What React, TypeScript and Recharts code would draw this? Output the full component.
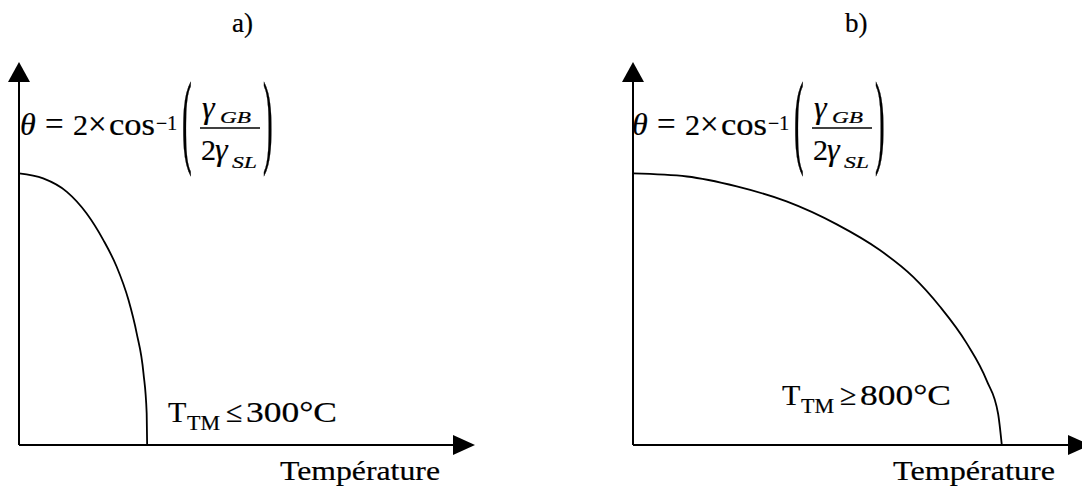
import React from "react";
import {
  LineChart,
  Line,
  XAxis,
  YAxis,
  ReferenceLine,
  ReferenceDot,
  Customized,
} from "recharts";

// Panel a) — T_TM <= 300°C (arbitrary units, 0..100 on each axis)
const tempA = [0, 5.3, 10.5, 14.8, 18.5, 21.4, 24.0, 25.8, 27.3, 28.0, 28.1];
const thetaA = [70.9, 69.6, 66.1, 60.5, 53.5, 46.6, 37.9, 29.2, 18.7, 8.3, 0];

// Panel b) — T_TM >= 800°C
const tempB = [0, 11.8, 22.7, 33.6, 44.6, 54.0, 61.3, 67.2, 73.0, 77.4, 79.9, 80.7];
const thetaB = [70.9, 70.1, 67.5, 63.6, 57.6, 50.9, 43.9, 36.1, 26.6, 16.8, 8.1, 0];

const panelTitles = ["a)", "b)"];
const conditionValues = ["300°C", "800°C"];
const conditionSigns = ["≤", "≥"];
const xAxisLabel = "Température";

const dataA = tempA.map((t, i) => ({ t, theta: thetaA[i] }));
const dataB = tempB.map((t, i) => ({ t, theta: thetaB[i] }));

const FONT = "'Liberation Serif', 'Times New Roman', serif";
const SW = 0.2;

const ArrowUp = (p: any) => (
  <polygon
    points={`${p.cx},${p.cy} ${p.cx - 11},${p.cy + 20} ${p.cx + 11},${p.cy + 20}`}
    fill="#000"
  />
);
const ArrowRight = (p: any) => (
  <polygon
    points={`${p.cx},${p.cy} ${p.cx - 22},${p.cy - 10} ${p.cx - 22},${p.cy + 10}`}
    fill="#000"
  />
);

const Equation = ({ dx }: { dx: number }) => (
  <g fontFamily={FONT} fill="#000" stroke="#000" strokeWidth={SW}>
    <text x={dx + 20} y={135} fontSize={32} fontStyle="italic">θ</text>
    <text x={dx + 45} y={135} fontSize={33}>=</text>
    <text x={dx + 73} y={135} fontSize={30}>2</text>
    <text x={dx + 88} y={135} fontSize={33}>×</text>
    <text x={dx + 109} y={135} fontSize={31} textLength={46} lengthAdjust="spacingAndGlyphs">cos</text>
    <text x={dx + 156} y={130} fontSize={20} textLength={21} lengthAdjust="spacingAndGlyphs">−1</text>
    <text transform={`translate(${dx + 182},154) scale(1,3.6)`} fontSize={29} strokeWidth={0.2}>(</text>
    <line x1={dx + 200} x2={dx + 260} y1={128} y2={128} stroke="#000" strokeWidth={1.6} />
    <text x={dx + 202} y={118} fontSize={32} fontStyle="italic">γ</text>
    <text x={dx + 220} y={123} fontSize={17} fontStyle="italic" textLength={31} lengthAdjust="spacingAndGlyphs">GB</text>
    <text x={dx + 201} y={160} fontSize={30}>2</text>
    <text x={dx + 215} y={160} fontSize={32} fontStyle="italic">γ</text>
    <text x={dx + 232} y={168} fontSize={17} fontStyle="italic" textLength={25} lengthAdjust="spacingAndGlyphs">SL</text>
    <text transform={`translate(${dx + 263},154) scale(1,3.6)`} fontSize={29} strokeWidth={0.2}>)</text>
  </g>
);

const Condition = ({ x, y, sign, value }: { x: number; y: number; sign: string; value: string }) => (
  <g fontFamily={FONT} fill="#000" stroke="#000" strokeWidth={SW}>
    <text x={x} y={y} fontSize={30}>T</text>
    <text x={x + 19} y={y + 8} fontSize={22} textLength={33} lengthAdjust="spacingAndGlyphs">TM</text>
    <text x={x + 58} y={y} fontSize={30}>{sign}</text>
    <text x={x + 78} y={y} fontSize={29} textLength={91} lengthAdjust="spacingAndGlyphs">{value}</text>
  </g>
);

const AxisTitle = ({ x, len, label }: { x: number; len: number; label: string }) => (
  <text
    x={x}
    y={480}
    fontFamily={FONT}
    fontSize={27}
    fill="#000"
    stroke="#000"
    strokeWidth={SW}
    textLength={len}
    lengthAdjust="spacingAndGlyphs"
  >
    {label}
  </text>
);

const Title = ({ x, label }: { x: number; label: string }) => (
  <text x={x} y={32} fontFamily={FONT} fontSize={27} fill="#000" stroke="#000" strokeWidth={SW}>
    {label}
  </text>
);

const AnnotA = () => (
  <g>
    <Title x={232} label={panelTitles[0]} />
    <Equation dx={0} />
    <Condition x={168} y={422} sign={conditionSigns[0]} value={conditionValues[0]} />
    <AxisTitle x={280} len={160} label={xAxisLabel} />
  </g>
);

const B_LEFT = 560;

const AnnotB = () => (
  <g>
    <Title x={845 - B_LEFT} label={panelTitles[1]} />
    <Equation dx={612 - B_LEFT} />
    <Condition x={782 - B_LEFT} y={405} sign={conditionSigns[1]} value={conditionValues[1]} />
    <AxisTitle x={893 - B_LEFT} len={162} label={xAxisLabel} />
  </g>
);

const Panel = ({
  data,
  left,
  width,
  margin,
  annot,
}: {
  data: any[];
  left: number;
  width: number;
  margin: any;
  annot: React.ReactElement;
}) => (
  <div style={{ position: "absolute", left, top: 0 }}>
    <LineChart width={width} height={491} data={data} margin={margin}>
      <XAxis type="number" dataKey="t" domain={[0, 100]} hide />
      <YAxis type="number" domain={[0, 100]} hide />
      <ReferenceLine
        segment={[{ x: 0, y: 0 }, { x: 0, y: 96 }]}
        stroke="#000"
        strokeWidth={2}
        ifOverflow="visible"
      />
      <ReferenceLine
        segment={[{ x: 0, y: 0 }, { x: 97, y: 0 }]}
        stroke="#000"
        strokeWidth={2}
        ifOverflow="visible"
      />
      <ReferenceDot x={0} y={100} shape={ArrowUp} ifOverflow="visible" />
      <ReferenceDot x={100} y={0} shape={ArrowRight} ifOverflow="visible" />
      <Line
        type="monotone"
        dataKey="theta"
        stroke="#000"
        strokeWidth={1.8}
        dot={false}
        activeDot={false}
        isAnimationActive={false}
      />
      <Customized component={annot} />
    </LineChart>
  </div>
);

export default function App() {
  return (
    <div
      style={{
        position: "absolute",
        left: 0,
        top: 0,
        width: 1082,
        height: 491,
        overflow: "hidden",
        background: "#fff",
      }}
    >
      <Panel
        data={dataA}
        left={0}
        width={541}
        margin={{ left: 19, right: 66, top: 62, bottom: 46 }}
        annot={<AnnotA />}
      />
      <Panel
        data={dataB}
        left={B_LEFT}
        width={560}
        margin={{ left: 633 - B_LEFT, right: 30, top: 62, bottom: 46 }}
        annot={<AnnotB />}
      />
    </div>
  );
}
